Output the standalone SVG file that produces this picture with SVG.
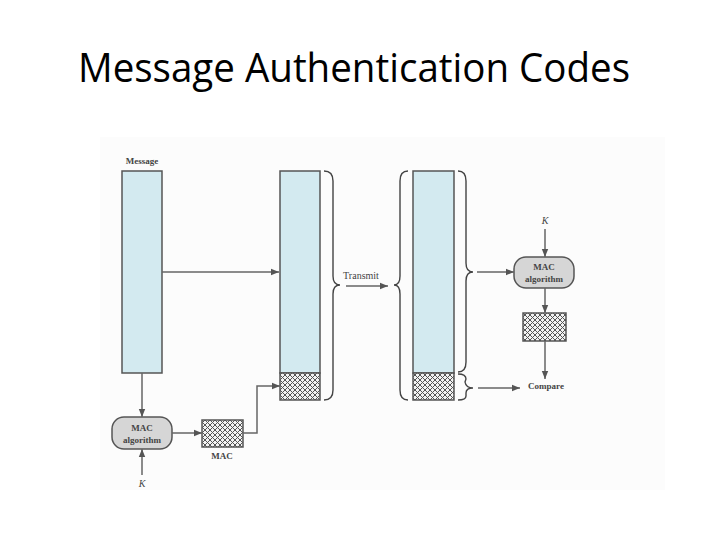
<svg xmlns="http://www.w3.org/2000/svg" width="720" height="540" viewBox="0 0 720 540">
<defs>
<pattern id="hatch" width="5" height="5" patternUnits="userSpaceOnUse">
<rect width="5" height="5" fill="#f2f2f2"/>
<path d="M0,0 L5,5 M5,0 L0,5" stroke="#555" stroke-width="1"/>
</pattern>
<marker id="arr" viewBox="0 0 10 10" refX="10" refY="5" markerWidth="8" markerHeight="8" markerUnits="userSpaceOnUse" orient="auto">
<path d="M0,1 L10,5 L0,9 Z" fill="#555"/>
</marker>
</defs>
<style>
.bar{fill:#d3eaf0;stroke:#555;stroke-width:1.5}
.hat{fill:url(#hatch);stroke:#555;stroke-width:1.5}
.alg{fill:#d6d6d6;stroke:#555;stroke-width:1.5}
.ln{fill:none;stroke:#666;stroke-width:1.5}
.br{fill:none;stroke:#444;stroke-width:1.4}
.lbl{font-family:"Liberation Serif",serif;font-weight:bold;font-size:9px;fill:#444;text-anchor:middle}
.tx{font-family:"Liberation Serif",serif;font-size:10px;fill:#444;text-anchor:middle}
.k{font-family:"Liberation Serif",serif;font-style:italic;font-size:10px;fill:#444;text-anchor:middle}
.title{font-family:"Open Sans","Liberation Sans",sans-serif;font-size:40px;fill:#000}
</style>
<rect width="720" height="540" fill="#fff"/>
<rect x="100" y="137" width="565" height="353" fill="#fcfcfc"/>
<text class="title" x="78" y="82" textLength="552" lengthAdjust="spacingAndGlyphs">Message Authentication Codes</text>

<g id="message">
<text class="lbl" x="142" y="164">Message</text>
<rect class="bar" x="122" y="171" width="40" height="202"/>
</g>
<g id="mac-alg-sender">
<rect class="alg" x="112" y="417" width="60" height="32" rx="12"/>
<text class="lbl" x="142" y="431">MAC</text>
<text class="lbl" x="142" y="443">algorithm</text>
</g>
<g id="k-sender"><text class="k" x="142" y="487">K</text></g>
<g id="mac-sender">
<rect class="hat" x="202" y="420" width="41" height="27"/>
<text class="lbl" x="222" y="459">MAC</text>
</g>
<g id="packet-sent">
<rect class="bar" x="280" y="171" width="40" height="202"/>
<rect class="hat" x="280" y="373" width="40" height="27"/>
</g>
<g id="transmit"><text class="tx" x="361" y="279">Transmit</text></g>
<g id="packet-received">
<rect class="bar" x="413" y="171" width="41" height="202"/>
<rect class="hat" x="413" y="373" width="41" height="27"/>
</g>
<g id="k-receiver"><text class="k" x="545" y="224">K</text></g>
<g id="mac-alg-receiver">
<rect class="alg" x="514" y="257" width="60" height="31" rx="12"/>
<text class="lbl" x="544" y="270">MAC</text>
<text class="lbl" x="544" y="282">algorithm</text>
</g>
<g id="mac-receiver"><rect class="hat" x="523" y="313" width="43" height="28"/></g>
<g id="compare"><text class="lbl" x="546" y="389">Compare</text></g>

<g id="braces">
<path class="br" d="M324,171 Q333,171 333,181 L333,276 Q333,285 340,285 Q333,285 333,294 L333,390 Q333,400 324,400"/>
<path class="br" d="M408,171 Q400,171 400,181 L400,276 Q400,285 394,285 Q400,285 400,294 L400,390 Q400,400 408,400"/>
<path class="br" d="M458,171 Q466,171 466,181 L466,263 Q466,272 473,272 Q466,272 466,281 L466,362 Q466,372 458,372"/>
<path class="br" d="M458,374 Q466,374 466,379 L465,382 Q466,388 473,388 Q466,388 466,393 L466,396 Q466,400 458,400"/>
</g>

<g id="connectors">
<line class="ln" x1="162" y1="272" x2="279" y2="272" marker-end="url(#arr)"/>
<line class="ln" x1="142" y1="373" x2="142" y2="417" marker-end="url(#arr)"/>
<line class="ln" x1="142" y1="475" x2="142" y2="449" marker-end="url(#arr)"/>
<line class="ln" x1="172" y1="433" x2="202" y2="433" marker-end="url(#arr)"/>
<polyline class="ln" points="243,433 257,433 257,386 280,386" marker-end="url(#arr)"/>
<line class="ln" x1="346" y1="286" x2="388" y2="286" stroke-width="2" marker-end="url(#arr)"/>
<line class="ln" x1="477" y1="272" x2="514" y2="272" marker-end="url(#arr)"/>
<line class="ln" x1="545" y1="229" x2="545" y2="257" marker-end="url(#arr)"/>
<line class="ln" x1="545" y1="288" x2="545" y2="313" marker-end="url(#arr)"/>
<line class="ln" x1="545" y1="341" x2="545" y2="379" marker-end="url(#arr)"/>
<line class="ln" x1="478" y1="388" x2="520" y2="388" marker-end="url(#arr)"/>
</g>
</svg>
